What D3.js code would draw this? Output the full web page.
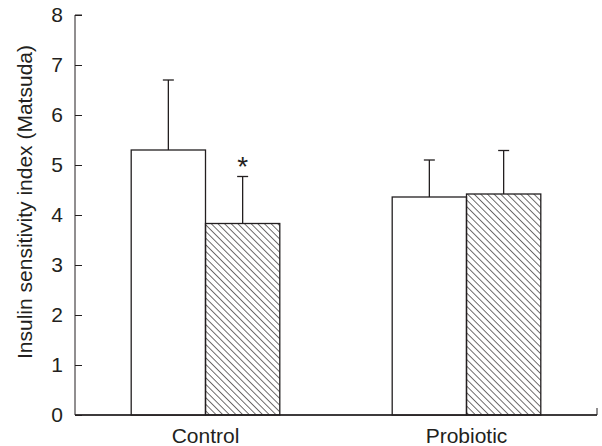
<!DOCTYPE html>
<html>
<head>
<meta charset="utf-8">
<script src="https://cdn.jsdelivr.net/npm/d3@7"></script>
<style>
  body { margin: 0; background: #fff; }
  text { font-family: "Liberation Sans", Arial, sans-serif; fill: #231f20; }
</style>
</head>
<body>
<svg id="chart"></svg>
<script>
const groups = ["Control", "Probiotic"];
const periods = ["before", "after"];
const means = [[5.3, 3.83], [4.36, 4.42]];
const errors = [[1.4, 0.94], [0.74, 0.87]];
const yTickValues = [0, 1, 2, 3, 4, 5, 6, 7, 8];
const yLabel = "Insulin sensitivity index (Matsuda)";
const starred = [[false, true], [false, false]];

const dims = {
  width: 602,
  height: 446,
  margin: { top: 15, left: 75, right: 5, bottom: 31 },
  barPair: 148.6,
  cap: 11,
  hatch: 4.7,
  font: 21,
};
dims.innerWidth = dims.width - dims.margin.left - dims.margin.right;
dims.innerHeight = dims.height - dims.margin.top - dims.margin.bottom;

const ink = "#231f20";

const svg = d3.select("#chart")
  .attr("width", dims.width)
  .attr("height", dims.height)
  .attr("viewBox", [0, 0, dims.width, dims.height]);

// hatch pattern for second bar (lines run top-left to bottom-right)
svg.append("defs")
  .append("pattern")
  .attr("id", "hatch")
  .attr("patternUnits", "userSpaceOnUse")
  .attr("width", dims.hatch)
  .attr("height", dims.hatch)
  .attr("patternTransform", "rotate(-45)")
  .append("line")
  .attr("x1", 0).attr("y1", 0)
  .attr("x2", 0).attr("y2", dims.hatch)
  .attr("stroke", ink)
  .attr("stroke-width", 1.3);

const base = svg.append("g")
  .attr("transform", `translate(${dims.margin.left},${dims.margin.top})`);

const xScale = d3.scaleBand()
  .domain(groups)
  .range([0, dims.innerWidth])
  .padding(0);

const subScale = d3.scaleBand()
  .domain(periods)
  .range([0, dims.barPair]);

const yScale = d3.scaleLinear()
  .domain([0, 8])
  .range([dims.innerHeight, 0]);

// y axis, ticks pointing inward
base.append("g")
  .call(d3.axisLeft(yScale).tickValues(yTickValues).tickSize(-7).tickPadding(12))
  .call((g) => {
    g.selectAll("path.domain").attr("stroke", ink).attr("d", `M0,${dims.innerHeight}V0H7`);
    g.selectAll(".tick line").attr("stroke", ink);
    g.selectAll(".tick text").attr("font-size", dims.font).attr("fill", ink);
  });

// x axis
base.append("g")
  .attr("transform", `translate(0,${dims.innerHeight})`)
  .call(d3.axisBottom(xScale).tickSize(0).tickPadding(13))
  .call((g) => {
    g.selectAll("path.domain").attr("stroke", ink)
      .attr("d", `M0,0H${dims.innerWidth}V-7`);
    g.selectAll(".tick text").attr("font-size", dims.font).attr("fill", ink).attr("dy", "0.71em");
  });

base.append("text")
  .attr("transform", `translate(${32 - dims.margin.left},${202 - dims.margin.top}) rotate(-90)`)
  .attr("text-anchor", "middle")
  .attr("font-size", dims.font)
  .text(yLabel);

// bars
const rows = groups.flatMap((g, i) => periods.map((p, j) => ({
  group: g, period: p, value: means[i][j], err: errors[i][j], star: starred[i][j],
})));

const xOf = (d) => xScale(d.group) + (xScale.bandwidth() - dims.barPair) / 2 + subScale(d.period);

const bars = base.append("g").selectAll("g")
  .data(rows)
  .join("g");

// error bars first so bar top edge covers the stem
bars.append("line")
  .attr("x1", (d) => xOf(d) + subScale.bandwidth() / 2)
  .attr("x2", (d) => xOf(d) + subScale.bandwidth() / 2)
  .attr("y1", (d) => yScale(d.value))
  .attr("y2", (d) => yScale(d.value + d.err))
  .attr("stroke", ink)
  .attr("stroke-width", 1.3);

bars.append("line")
  .attr("x1", (d) => xOf(d) + subScale.bandwidth() / 2 - dims.cap / 2)
  .attr("x2", (d) => xOf(d) + subScale.bandwidth() / 2 + dims.cap / 2)
  .attr("y1", (d) => yScale(d.value + d.err))
  .attr("y2", (d) => yScale(d.value + d.err))
  .attr("stroke", ink)
  .attr("stroke-width", 1.3);

bars.append("rect")
  .attr("x", (d) => xOf(d))
  .attr("y", (d) => yScale(d.value))
  .attr("width", subScale.bandwidth())
  .attr("height", (d) => yScale(0) - yScale(d.value))
  .attr("fill", (d) => (d.period === "after" ? "url(#hatch)" : "#fff"))
  .attr("stroke", ink)
  .attr("stroke-width", 1.3);

bars.filter((d) => d.star)
  .append("text")
  .attr("x", (d) => xOf(d) + subScale.bandwidth() / 2)
  .attr("y", (d) => yScale(d.value + d.err) - 1)
  .attr("text-anchor", "middle")
  .attr("font-size", 28)
  .text("*");

// heavier baseline under bars
base.append("line")
  .attr("x1", 0).attr("x2", dims.innerWidth)
  .attr("y1", dims.innerHeight).attr("y2", dims.innerHeight)
  .attr("stroke", ink).attr("stroke-width", 1.3);
</script>
</body>
</html>
